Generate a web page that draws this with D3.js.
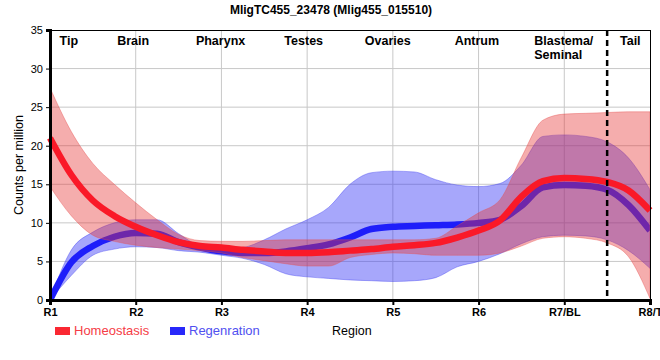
<!DOCTYPE html>
<html><head><meta charset="utf-8">
<script src="https://cdn.jsdelivr.net/npm/d3@7"></script>
<style>body{margin:0;background:#fff}svg{font-family:Arial,"Liberation Sans",sans-serif}</style>
</head><body><svg id="c" width="660" height="360"></svg>
<script>
const regions = ["R1","R2","R3","R4","R5","R6","R7/BL","R8/T"];
const xs = [0,0.25,0.5,0.75,1,1.25,1.5,1.75,2,2.25,2.5,2.75,3,3.25,3.5,3.75,4,4.25,4.5,4.75,5,5.25,5.5,5.75,6,6.25,6.5,6.75,7];
const homMean = [21.0,16.2,12.9,10.9,9.5,8.4,7.5,7.0,6.8,6.5,6.3,6.1,6.1,6.2,6.4,6.6,6.9,7.1,7.4,8.1,9.0,10.3,13.4,15.4,15.8,15.7,15.3,14.2,11.6];
const homUpper = [27.5,21.8,17.7,15.0,12.6,10.4,8.5,7.7,7.6,7.6,7.7,7.8,7.8,7.8,7.8,7.8,7.8,7.8,8.0,9.6,11.3,13.0,18.5,23.3,24.1,24.2,24.3,24.4,24.4];
const homLower = [14.7,10.9,8.4,7.6,7.1,6.8,6.6,6.4,6.1,5.5,5.1,4.7,4.4,4.4,5.5,5.9,6.1,6.0,5.8,5.8,5.8,6.1,7.0,8.0,8.2,8.0,7.4,5.6,0.2];
const regMean = [0,4.9,7.0,8.2,8.7,8.6,7.5,6.8,6.3,6.1,6.1,6.3,6.7,7.2,8.1,9.2,9.5,9.6,9.7,9.8,10.0,10.4,12.2,14.6,14.9,14.8,14.3,12.3,9.0];
const regUpper = [0,6.5,8.8,10.0,10.4,10.4,8.6,7.0,6.6,6.8,7.8,9.2,10.4,12.0,15.0,16.5,16.7,16.6,15.6,14.9,14.7,15.1,17.5,21.2,21.4,21.2,20.5,18.4,14.3];
const regLower = [0,3.2,5.8,6.6,6.9,6.8,6.4,6.2,5.8,5.4,4.6,3.4,3.0,2.8,2.6,2.5,2.4,2.5,2.9,4.3,5.0,6.0,7.3,8.2,8.4,8.3,7.8,6.4,4.1];
const yTicks = [0,5,10,15,20,25,30,35];
const tissueLabels = ["Tip","Brain","Pharynx","Testes","Ovaries","Antrum","Blastema/|Seminal","Tail"];
const tissuePos = [0.22,0.97,1.99,2.96,3.94,4.98,5.65,6.77];
const tailBoundary = 6.5;
const title = "MligTC455_23478 (Mlig455_015510)";

const svg = d3.select("#c");
const L=50,R=650,T=30,B=300;
const x = d3.scaleLinear().domain([0,7]).range([L,R]);
const y = d3.scaleLinear().domain([0,35]).range([B,T]);

svg.append("defs").append("clipPath").attr("id","clip").append("rect")
  .attr("x",L).attr("y",T).attr("width",R-L).attr("height",B-T);

// grid
const g = svg.append("g");
g.selectAll(".vg").data(d3.range(1,7)).join("line")
  .attr("x1",d=>x(d)).attr("x2",d=>x(d)).attr("y1",T).attr("y2",B)
  .attr("stroke","#c8c8c8").attr("stroke-width",1);
g.selectAll(".hg").data(yTicks.slice(1,-1)).join("line")
  .attr("x1",L).attr("x2",R).attr("y1",d=>y(d)).attr("y2",d=>y(d))
  .attr("stroke","#c8c8c8").attr("stroke-width",1);

const curve = d3.curveMonotoneX;
function band(up,lo){return d3.area().x((d,i)=>x(xs[i])).y0((d,i)=>y(lo[i])).y1((d,i)=>y(up[i])).curve(curve)(xs);}
function line(m){return d3.line().x((d,i)=>x(xs[i])).y((d,i)=>y(m[i])).curve(curve)(xs);}

const p = svg.append("g").attr("clip-path","url(#clip)");
p.append("path").attr("d",band(regUpper,regLower)).attr("fill","rgb(50,50,245)").attr("fill-opacity",0.43)
  .attr("stroke","rgb(60,60,240)").attr("stroke-opacity",0.5).attr("stroke-width",0.8);
p.append("path").attr("d",line(regMean)).attr("fill","none").attr("stroke","rgb(30,30,250)").attr("stroke-width",6.5);
p.append("path").attr("d",band(homUpper,homLower)).attr("fill","rgb(230,50,50)").attr("fill-opacity",0.4)
  .attr("stroke","rgb(230,80,80)").attr("stroke-opacity",0.5).attr("stroke-width",0.8);
svg.append("path").attr("d",line(homMean)).attr("fill","none").attr("stroke","rgb(250,25,40)").attr("stroke-width",6.5);

// dashed boundary
svg.append("line").attr("x1",x(tailBoundary)).attr("x2",x(tailBoundary)).attr("y1",T).attr("y2",B)
  .attr("stroke","#000").attr("stroke-width",2.5).attr("stroke-dasharray","6,4");

// frame
svg.append("line").attr("x1",L).attr("x2",R).attr("y1",T+0.5).attr("y2",T+0.5).attr("stroke","#000").attr("stroke-width",1);
svg.append("line").attr("x1",R+0.5).attr("x2",R+0.5).attr("y1",T).attr("y2",B).attr("stroke","#000").attr("stroke-width",1);

// axes
const xAxis = svg.append("g").attr("transform",`translate(0,${B})`)
  .call(d3.axisBottom(x).tickValues(d3.range(0,8)).tickFormat(i=>regions[i]).tickSize(5).tickPadding(3));
xAxis.select(".domain").attr("stroke-width",3);
xAxis.selectAll(".tick line").attr("stroke-width",2);
xAxis.selectAll("text").attr("font-size",11).attr("font-weight","bold").attr("fill","#000").attr("font-family","Arial");
const yAxis = svg.append("g").attr("transform",`translate(${L},0)`)
  .call(d3.axisLeft(y).tickValues(yTicks).tickSize(4).tickPadding(3));
yAxis.select(".domain").attr("stroke-width",3);
yAxis.selectAll("text").attr("font-size",11).attr("fill","#000").attr("font-family","Arial");

// tissue labels
tissueLabels.forEach((t,i)=>{
  const parts = t.split("|");
  const txt = svg.append("text").attr("x",x(tissuePos[i])).attr("y",45)
    .attr("text-anchor",parts.length>1?"start":"middle")
    .attr("font-size",12.5).attr("font-weight","bold").attr("fill","#000");
  parts.forEach((s,j)=>txt.append("tspan").attr("x",x(tissuePos[i])).attr("dy",j?14:0).text(s));
});

// title
svg.append("text").attr("x",331).attr("y",14).attr("text-anchor","middle")
  .attr("font-size",12).attr("font-weight","bold").text(title);
// y label
svg.append("text").attr("transform","translate(23,165) rotate(-90)").attr("text-anchor","middle")
  .attr("font-size",12.5).text("Counts per million");
// legend
const lg = svg.append("g");
lg.append("rect").attr("x",55).attr("y",327).attr("width",15).attr("height",8).attr("fill","rgb(250,40,50)");
lg.append("text").attr("x",74).attr("y",335).attr("font-size",13).attr("fill","rgb(245,60,70)").text("Homeostasis");
lg.append("rect").attr("x",170).attr("y",327).attr("width",15).attr("height",8).attr("fill","rgb(40,40,250)");
lg.append("text").attr("x",189).attr("y",335).attr("font-size",13).attr("fill","rgb(80,80,240)").text("Regenration");
lg.append("text").attr("x",332).attr("y",335).attr("font-size",12.5).attr("fill","#000").text("Region");
</script></body></html>
